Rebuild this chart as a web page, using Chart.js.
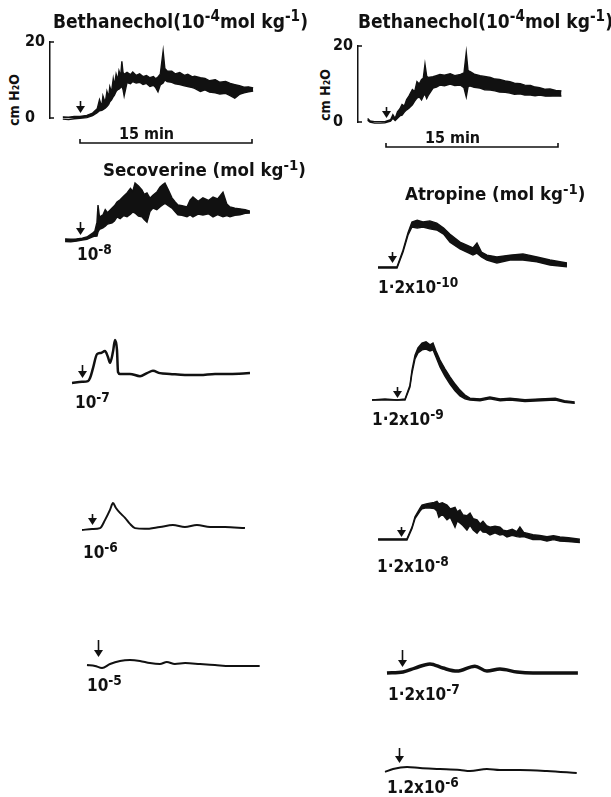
<!DOCTYPE html>
<html>
<head>
<meta charset="utf-8">
<script src="https://cdn.jsdelivr.net/npm/chart.js"></script>
<style>
  body { margin: 0; background: #fff; }
  #page { position: relative; width: 611px; height: 797px; overflow: hidden; font-family: "DejaVu Sans Condensed", "DejaVu Sans", sans-serif; font-weight: bold; color: #111; }
  #page canvas { position: absolute; }
  .txt { position: absolute; white-space: nowrap; line-height: 1; }
  .txt sup { font-size: 0.8em; vertical-align: 0; position: relative; top: -0.45em; }
  .rot { position: absolute; white-space: nowrap; font-size: 14px; line-height: 1; transform: translate(-50%, -50%) rotate(-90deg); }
</style>
</head>
<body>
<div id="page"></div>
<script>
// time in min after the injection (arrow), pressure in cm H2O above baseline
const barMinutes = 15;
const yTicks = [0, 20];

// Bethanechol 10^-4 mol/kg, left column
const bethLeftT  = [-1.5,-1.0,-0.5,0.0,0.6,1.1,1.5,1.7,1.9,2.0,2.2,2.35,2.5,2.6,2.75,2.9,3.0,3.15,3.3,3.4,3.55,3.65,3.75,3.85,4.1,4.4,4.6,4.9,5.2,5.5,5.8,6.1,6.4,6.6,6.8,7.0,7.25,7.4,7.6,8.0,8.3,8.7,9.1,9.4,9.8,10.0,10.5,10.9,11.3,11.8,12.2,12.7,13.1,13.5,13.9,14.3,14.7,15.1];
const bethLeftHi = [0.3,0.2,0.4,0.4,0.7,1.3,2.4,4.8,3.0,5.8,4.0,7.0,5.5,8.2,6.8,10.3,8.5,11.5,10.0,12.4,11.0,14.9,12.0,11.5,12.0,11.4,12.1,11.2,11.6,10.9,11.2,10.6,10.9,10.3,10.8,11.5,17.6,13.0,12.4,12.3,11.6,12.0,11.2,11.5,10.8,11.0,10.6,10.4,9.8,10.1,9.4,9.6,9.1,8.8,8.5,8.1,8.2,7.9];
const bethLeftLo = [-0.3,-0.4,-0.2,-0.1,0.1,0.6,1.4,1.9,2.0,2.2,2.6,3.0,3.6,4.3,4.8,5.6,6.0,7.0,7.5,7.6,8.0,8.4,7.5,5.8,9.3,9.0,9.6,9.2,9.4,8.8,9.1,8.3,8.6,8.0,6.9,8.7,9.2,10.0,9.6,9.4,9.0,8.8,8.5,8.3,8.0,7.8,7.0,7.4,6.8,6.6,6.3,6.5,5.9,5.2,6.2,6.6,6.9,7.1];

// Bethanechol 10^-4 mol/kg, right column
const bethRightT  = [-1.6,-1.4,-1.0,-0.5,-0.1,0.4,0.6,0.8,1.0,1.2,1.4,1.6,1.8,2.0,2.3,2.5,2.7,2.9,3.1,3.25,3.4,3.55,3.7,4.1,4.4,4.7,5.1,5.6,6.0,6.5,6.8,7.0,7.15,7.3,7.7,8.2,8.6,9.1,9.5,9.9,10.4,10.8,11.2,11.7,12.1,12.6,13.0,13.4,13.9,14.3,14.8,15.3];
const bethRightHi = [0.9,0.3,0.1,0.1,0.1,0.6,1.9,0.9,2.7,3.4,4.6,4.2,5.9,6.8,8.5,8.0,10.6,10.0,11.2,11.5,15.2,12.0,11.7,11.9,12.2,12.5,12.3,12.7,12.2,12.5,12.9,18.3,13.6,13.3,12.6,12.2,12.0,11.7,11.3,11.2,10.8,10.6,10.2,10.1,9.7,9.6,9.2,9.0,8.6,8.7,8.3,8.2];
const bethRightLo = [0.5,0.0,-0.3,-0.3,-0.2,0.2,1.0,0.4,1.0,1.6,1.8,2.6,3.2,3.6,4.5,5.5,6.3,6.6,5.8,6.8,7.4,6.2,7.1,8.9,9.2,9.7,9.5,10.0,9.6,9.7,9.0,6.6,9.2,9.5,9.1,8.9,8.5,8.4,8.2,7.9,7.8,7.6,7.3,7.4,7.1,7.1,6.9,7.1,6.8,6.8,6.9,6.8];

// Secoverine doses
const secoverineExp = [-8, -7, -6, -5];
const seco8T  = [-1.3,-0.8,-0.3,0.2,0.6,1.1,1.3,1.48,1.57,1.7,2.0,2.2,2.4,2.8,3.0,3.23,3.5,3.8,4.1,4.4,4.6,4.8,5.1,5.4,5.6,5.84,6.1,6.36,6.7,6.97,7.2,7.41,7.7,8.02,8.3,8.54,8.9,9.33,9.6,9.85,10.3,10.72,11.2,11.6,12.0,12.47,12.8,13.08,13.5,13.95,14.4,14.82];
const seco8Hi = [0.3,0.2,0.3,0.5,0.8,1.8,2.4,4.7,9.2,6.0,6.6,8.0,7.2,8.4,9.0,10.0,10.6,11.5,12.4,13.6,12.8,15.0,14.2,13.2,12.0,12.4,11.0,11.8,12.6,13.9,14.5,15.0,13.2,11.1,10.0,9.2,9.0,8.7,10.5,11.3,10.2,11.1,10.4,11.3,10.8,12.6,9.5,8.7,8.4,8.2,8.0,7.6];
const seco8Lo = [-0.4,-0.5,-0.3,0.0,0.2,0.8,1.0,1.05,2.1,2.8,3.2,3.6,4.2,4.5,5.0,6.1,5.6,6.4,6.1,6.8,7.4,7.1,6.3,6.1,5.4,4.7,7.5,8.4,8.0,8.7,9.2,9.7,9.0,8.4,7.4,6.6,6.5,6.1,6.6,6.1,6.8,6.6,6.9,6.1,6.7,6.1,6.4,6.1,6.5,6.6,7.0,7.1];
const seco7T = [-0.87,0,0.52,0.7,0.96,1.31,1.66,2.0,2.27,2.44,2.7,2.88,3.05,3.14,3.31,4.18,5.06,5.67,6.19,6.8,7.67,8.98,10.29,11.6,12.9,14.65];
const seco7V = [0,0.3,0.5,1.3,3.9,7.6,7.9,8.4,6.8,5.3,8.2,11.3,8.7,2.9,2.4,2.4,1.8,2.6,3.2,2.6,2.4,2.1,2.1,2.4,2.4,2.6];
const seco6T = [-0.87,0,0.7,1.13,1.57,1.83,2.09,2.44,2.88,3.31,3.75,4.6,5.93,7.06,8.1,9.15,10.3,11.6,13.34];
const seco6V = [0,0.26,0.5,2.6,5.3,7.1,5.8,4.5,3.2,1.6,0.5,0.3,0.8,1.3,0.8,1.3,0.8,0.8,0.5];
const seco5T = [-0.96,-0.26,0.35,1.05,1.92,2.79,3.66,4.53,5.4,6.0,6.7,7.6,8.9,10.2,11.5,12.8,14.1];
const seco5V = [0,-0.26,-0.8,0.26,1.05,1.3,1.05,0.5,0.26,0.8,0.26,0.5,0.26,0,-0.26,-0.26,-0.26];

// Atropine doses (1.2 x 10^n mol/kg)
const atropineExp = [-10, -9, -8, -7, -6];
const atro10T  = [-1.22,0.44,0.96,1.39,1.74,2.2,2.7,3.3,3.9,4.5,5.06,5.93,7.06,7.41,7.8,8.28,9.15,10.29,11.42,12.64,13.78,15.26];
const atro10Hi = [0.3,0.3,4.7,9.2,12.1,12.6,12.1,12.4,11.8,10.5,8.9,6.8,5.3,6.6,4.2,3.4,2.9,3.4,3.7,2.9,2.1,1.3];
const atro10Lo = [0,0,4.2,8.6,10.8,10.5,10.8,10.3,10.0,8.9,6.8,5.0,3.4,3.9,2.9,2.1,1.3,2.1,2.1,1.6,0.8,0.3];
const atro9T  = [-2.18,-1.05,0,0.7,1.13,1.31,1.57,1.83,2.18,2.53,2.88,3.14,3.4,3.75,4.18,4.62,5.06,5.49,5.93,6.36,7.24,8.1,9.0,9.85,11.16,12.5,13.8,14.6,15.5];
const atro9Hi = [0,0.26,0,0.26,3.9,7.9,11.8,13.7,15.0,15.3,14.5,15.0,12.9,10.5,8.2,6.1,4.2,2.6,1.3,0.5,0.3,0.8,0.3,0.5,0.1,0.3,0.5,-0.2,-0.5];
const atro9Lo = [0,0,0,0,3.4,7.1,10.8,12.4,13.2,13.4,12.9,13.2,11.3,8.7,6.3,4.2,2.4,1.1,0.3,0,-0.2,0.3,-0.2,0,-0.4,-0.2,0,-0.6,-0.9];
const atro8T  = [-2.0,0.52,0.96,1.22,1.66,1.83,2.2,2.53,2.9,3.14,3.3,3.6,4.01,4.3,4.71,4.9,5.14,5.4,5.75,6.02,6.3,6.63,6.9,7.15,7.45,7.76,8.2,8.63,8.9,9.24,9.7,10.1,10.37,10.7,11.5,12.1,12.73,13.3,13.86,14.6,15.6];
const atro8Hi = [0.3,0.3,3.4,6.1,8.4,9.2,9.5,9.7,9.9,10.2,9.5,9.8,9.2,8.2,8.6,7.4,7.9,6.6,6.4,7.1,5.6,5.3,4.2,4.9,3.8,3.4,3.6,3.4,2.6,2.4,2.8,2.2,3.4,2.0,1.4,1.2,0.9,1.1,0.8,0.6,0.2];
const atro8Lo = [0,0,3.0,5.6,7.6,8.2,8.5,8.4,8.3,7.6,6.0,6.8,5.3,6.0,3.4,5.0,4.5,3.8,2.6,3.9,2.6,1.8,2.8,2.1,2.0,1.3,1.9,1.3,1.5,0.8,1.2,0.9,0.8,0.9,0.1,0.2,-0.3,0.1,-0.3,-0.4,-0.7];
const atro7T = [-1.31,0.09,1.13,2.44,3.57,4.8,6.36,7.41,8.54,10.03,11.42,13.16,15.34];
const atro7V = [0,0.26,1.3,2.4,1.3,0.5,1.8,0.5,1.05,0.26,0,0,0];
const atro6T = [-1.22,-0.52,0.7,1.83,3.57,5.32,6.19,7.67,8.8,10.55,12.9,15.5];
const atro6V = [-0.5,0.26,0.8,0.5,0.26,0,-0.26,0.26,0,0,-0.26,-0.8];

// ---- layout ----
const PX_MIN = 172 / 15;   // px per minute (15 min bar)
const PX_CM = 3.8;         // px per cm H2O
const FONT = '"DejaVu Sans Condensed", "DejaVu Sans"';

const panels = [
  { t: bethLeftT, hi: bethLeftHi, lo: bethLeftLo, arrowX: 80, baseY: 118, axisX: 50, gap: 5, len: 12 },
  { t: bethRightT, hi: bethRightHi, lo: bethRightLo, arrowX: 386, baseY: 122, axisX: 358, gap: 4, len: 11 },
  { t: seco8T, hi: seco8Hi, lo: seco8Lo, arrowX: 80, baseY: 240, gap: 5, len: 13 },
  { t: seco7T, v: seco7V, arrowX: 82, baseY: 383, gap: 5, len: 13, width: 2.5 },
  { t: seco6T, v: seco6V, arrowX: 92, baseY: 530, gap: 5, len: 11, width: 2 },
  { t: seco5T, v: seco5V, arrowX: 98, baseY: 665, gap: 8, len: 17, width: 2 },
  { t: atro10T, hi: atro10Hi, lo: atro10Lo, arrowX: 392, baseY: 268, gap: 5, len: 11 },
  { t: atro9T, hi: atro9Hi, lo: atro9Lo, arrowX: 397, baseY: 400, gap: 2, len: 11 },
  { t: atro8T, hi: atro8Hi, lo: atro8Lo, arrowX: 401, baseY: 540, gap: 3, len: 10 },
  { t: atro7T, v: atro7V, arrowX: 402, baseY: 673, gap: 6, len: 17, width: 3.5 },
  { t: atro6T, v: atro6V, arrowX: 399, baseY: 770, gap: 7, len: 15, width: 2 }
];

const page = document.getElementById('page');

// arrow, axis hooks and the time bar
const marks = {
  id: 'marks',
  afterDatasetsDraw(chart, args, o) {
    const { ctx, chartArea, scales: { x, y } } = chart;
    const ax = Math.round(x.getPixelForValue(0)) + 0.5;
    const y0 = y.getPixelForValue(0);
    ctx.save();
    ctx.strokeStyle = '#111';
    ctx.fillStyle = '#111';
    ctx.lineWidth = 1.6;
    const tip = y0 - o.gap;
    ctx.beginPath();
    ctx.moveTo(ax, tip - o.len);
    ctx.lineTo(ax, tip - 4);
    ctx.stroke();
    ctx.beginPath();
    ctx.moveTo(ax - 4.5, tip - 7);
    ctx.lineTo(ax + 4.5, tip - 7);
    ctx.lineTo(ax, tip);
    ctx.closePath();
    ctx.fill();
    if (o.bar) {
      const l = chartArea.left;
      ctx.beginPath();
      ctx.moveTo(l + 4, y.getPixelForValue(20));
      ctx.lineTo(l, y.getPixelForValue(20));
      ctx.moveTo(l, y0);
      ctx.lineTo(l + 4, y0);
      ctx.stroke();
      const by = y0 + 25;
      const x1 = x.getPixelForValue(0), x2 = x.getPixelForValue(barMinutes);
      ctx.beginPath();
      ctx.moveTo(x1, by - 4);
      ctx.lineTo(x1, by);
      ctx.lineTo(x2, by);
      ctx.lineTo(x2, by - 4);
      ctx.stroke();
      ctx.font = 'bold 16px ' + FONT;
      ctx.textAlign = 'center';
      ctx.textBaseline = 'alphabetic';
      ctx.fillText(barMinutes + ' min', x.getPixelForValue(5.8), by - 4);
    }
    ctx.restore();
  }
};

panels.forEach(p => {
  const withAxis = p.axisX != null;
  const axisW = 25;
  let left, top, w, h, xMin, xMax, yMin, yMax, pad;
  if (withAxis) {
    const areaW = p.arrowX + 195 - p.axisX;
    left = p.axisX - axisW; w = areaW + axisW;
    top = p.baseY - 20 * PX_CM - 12; h = 20 * PX_CM + 12 + 50;
    xMin = (p.axisX - p.arrowX) / PX_MIN; xMax = xMin + areaW / PX_MIN;
    yMin = 0; yMax = 20;
    pad = { top: 12, bottom: 50, left: 0, right: 0 };
  } else {
    left = p.arrowX - 40; w = 240; top = p.baseY - 90; h = 120;
    xMin = -40 / PX_MIN; xMax = 200 / PX_MIN;
    yMin = -30 / PX_CM; yMax = 90 / PX_CM;
    pad = 0;
  }
  const c = document.createElement('canvas');
  c.width = w; c.height = h;
  c.style.left = left + 'px';
  c.style.top = top + 'px';
  page.appendChild(c);

  const pts = vals => p.t.map((t, i) => ({ x: t, y: vals[i] }));
  const base = { borderColor: '#111', pointRadius: 0, clip: false };
  const datasets = p.v
    ? [{ ...base, data: pts(p.v), borderWidth: p.width, cubicInterpolationMode: 'monotone' }]
    : [{ ...base, data: pts(p.hi), borderWidth: 1.4, fill: '+1', backgroundColor: '#111' },
       { ...base, data: pts(p.lo), borderWidth: 1.4, fill: false }];

  new Chart(c, {
    type: 'line',
    data: { datasets: datasets },
    options: {
      responsive: false,
      animation: false,
      layout: { padding: pad },
      plugins: {
        legend: { display: false },
        tooltip: { enabled: false },
        marks: { gap: p.gap, len: p.len, bar: withAxis }
      },
      scales: {
        x: { type: 'linear', display: false, min: xMin, max: xMax },
        y: withAxis ? {
          min: yMin, max: yMax,
          afterBuildTicks: s => { s.ticks = yTicks.map(v => ({ value: v })); },
          afterFit: s => { s.width = axisW; },
          grid: { display: false },
          border: { display: true, color: '#111', width: 1.5 },
          ticks: { crossAlign: 'far', color: '#111', padding: 0, font: { family: FONT, size: 16, weight: 'bold' } }
        } : { display: false, min: yMin, max: yMax }
      }
    },
    plugins: [marks]
  });
});

// ---- text ----
function addText(html, x, baseline, size) {
  const d = document.createElement('div');
  d.className = 'txt';
  d.innerHTML = html;
  d.style.fontSize = size + 'px';
  d.style.left = x + 'px';
  d.style.top = (baseline - 0.846 * size) + 'px';
  page.appendChild(d);
}
const sup = s => '<sup>' + s + '</sup>';
const bethTitle = 'Bethanechol(10' + sup('-4') + 'mol kg' + sup('-1') + ')';
addText(bethTitle, 53, 28, 19);
addText(bethTitle, 358, 28, 19);
addText('Secoverine (mol kg' + sup('-1') + ')', 103, 177, 18.5);
addText('Atropine (mol kg' + sup('-1') + ')', 405, 201, 18.5);

const secoPos = [[77, 260], [75, 408], [83, 558], [87, 691]];
secoverineExp.forEach((e, i) => addText('10' + sup(e), secoPos[i][0], secoPos[i][1], 17));
const atroPos = [[378, 293], [372, 425], [377, 572], [388, 700], [387, 793]];
atropineExp.forEach((e, i) => addText((i < 4 ? '1·2' : '1.2') + 'x10' + sup(e), atroPos[i][0], atroPos[i][1], 17));

[[14, 100], [325, 95]].forEach(([x, y]) => {
  const d = document.createElement('div');
  d.className = 'rot';
  d.innerHTML = 'cm H₂O';
  d.style.left = x + 'px';
  d.style.top = y + 'px';
  page.appendChild(d);
});
</script>
</body>
</html>
